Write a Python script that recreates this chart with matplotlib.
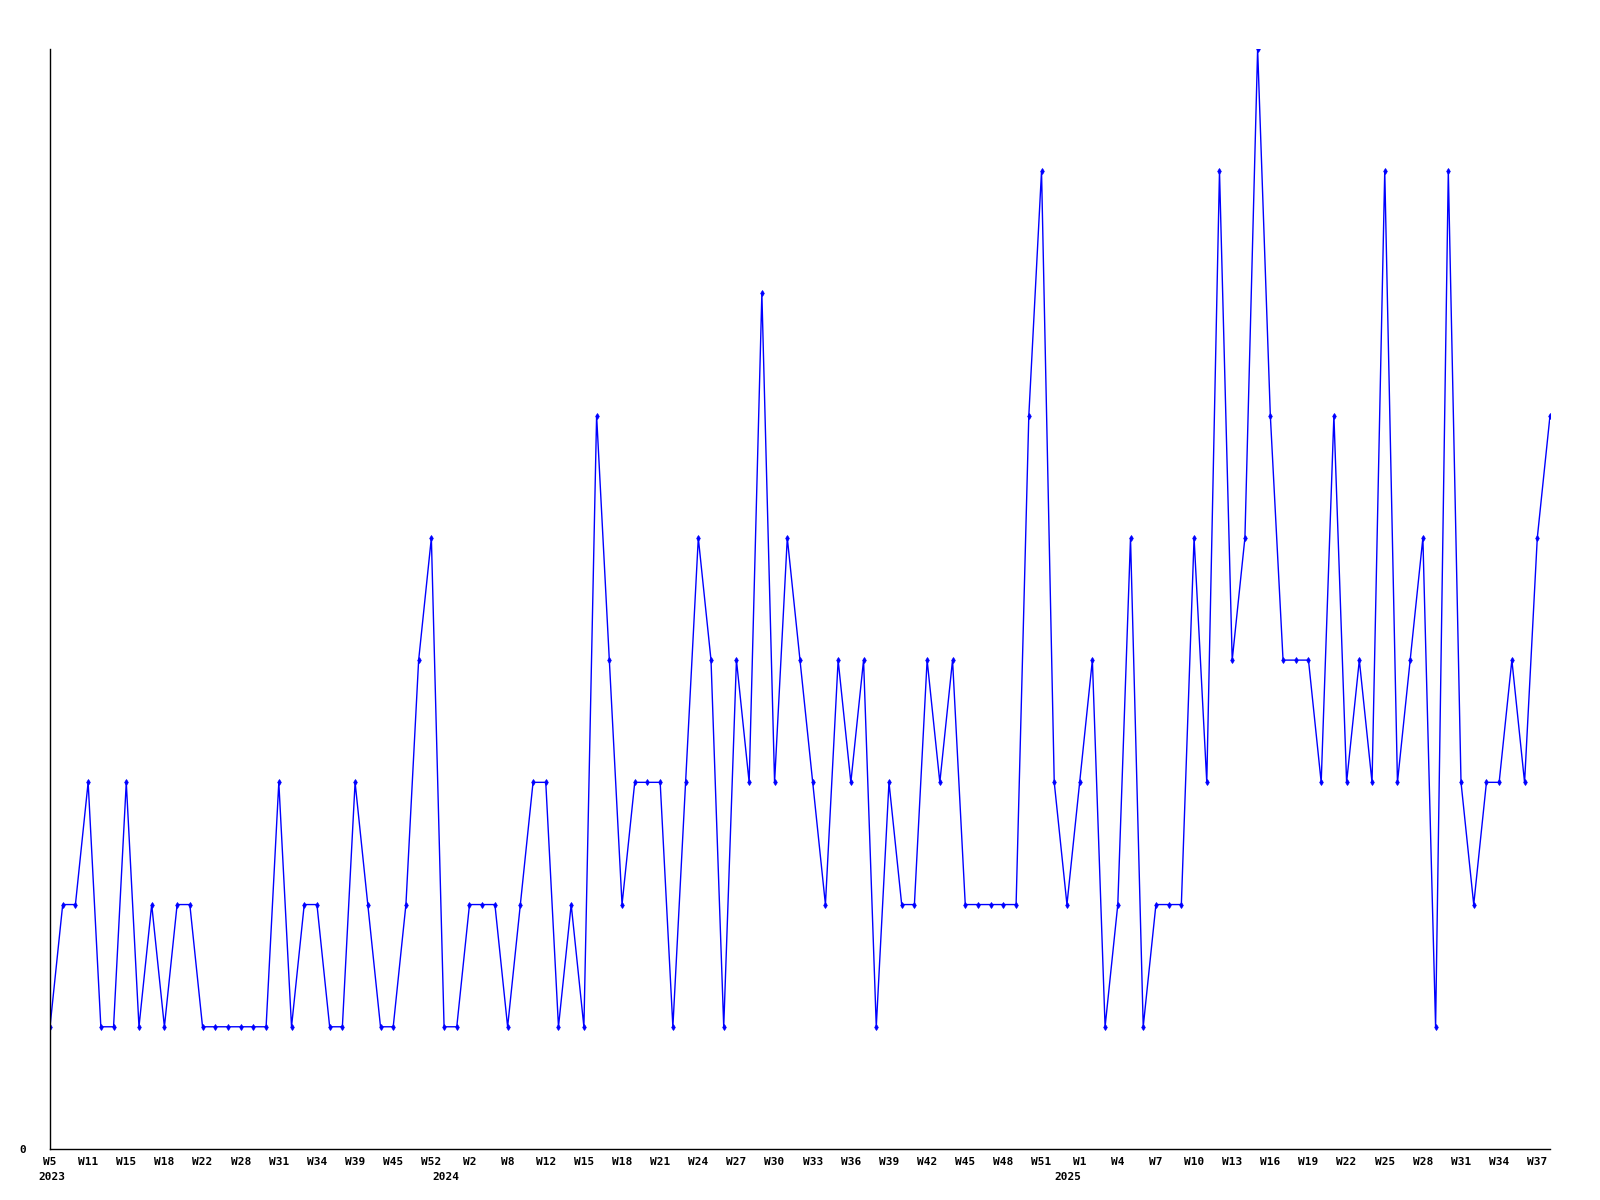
"""
Weekly counts line chart (2023 W5 - 2025 W38)
"""

import matplotlib
matplotlib.use("Agg")
import matplotlib.pyplot as plt

# =========================================================
# Data
# =========================================================
# one value per plotted week (category axis, 119 points)
counts = [
    # 2023
    1, 2, 2, 3, 1, 1, 3, 1, 2, 1,
    2, 2, 1, 1, 1, 1, 1, 1, 3, 1,
    2, 2, 1, 1, 3, 2, 1, 1, 2, 4,
    5,
    # 2024
    1, 1, 2, 2, 2, 1, 2, 3, 3,
    1, 2, 1, 6, 4, 2, 3, 3, 3, 1,
    3, 5, 4, 1, 4, 3, 7, 3, 5, 4,
    3, 2, 4, 3, 4, 1, 3, 2, 2, 4,
    3, 4, 2, 2, 2, 2, 2, 6, 8, 3,
    # 2025
    2, 3, 4, 1, 2, 5, 1, 2, 2, 2,
    5, 3, 8, 4, 5, 9, 6, 4, 4, 4,
    3, 6, 3, 4, 3, 8, 3, 4, 5, 1,
    8, 3, 2, 3, 3, 4, 3, 5, 6,
]

# a label on every third week
tick_labels = [
    "W5", "W11", "W15", "W18", "W22", "W28", "W31", "W34", "W39", "W45", "W52",
    "W2", "W8", "W12", "W15", "W18", "W21", "W24", "W27", "W30", "W33", "W36",
    "W39", "W42", "W45", "W48", "W51",
    "W1", "W4", "W7", "W10", "W13", "W16", "W19", "W22", "W25", "W28", "W31",
    "W34", "W37",
]
TICK_STEP = 3

years = ["2023", "2024", "2025"]
year_start = [0, 31, 80]       # index of first point of each year

LINE_COLOR = "#0000ff"
FONT = dict(family="DejaVu Sans Mono", fontsize=8, fontweight="bold")

# =========================================================
# Plot
# =========================================================
fig = plt.figure(figsize=(16, 12), dpi=100)
ax = fig.add_axes([50 / 1600, 1 - 1149 / 1200, 1500 / 1600, 1100 / 1200])

x = list(range(len(counts)))
ax.plot(x, counts, color=LINE_COLOR, linewidth=1.0,
        marker="d", markersize=3, markerfacecolor=LINE_COLOR,
        markeredgecolor=LINE_COLOR, markeredgewidth=0.6)

ax.set_xlim(0, len(counts) - 1)
ax.set_ylim(0, 9)

for side in ("top", "right"):
    ax.spines[side].set_visible(False)
for side in ("left", "bottom"):
    ax.spines[side].set_color("black")
    ax.spines[side].set_linewidth(1.0)

ax.set_xticks(range(0, len(counts), TICK_STEP)[:len(tick_labels)])
ax.set_xticklabels(tick_labels, **FONT)
ax.set_yticks([0])
ax.set_yticklabels(["0"], **FONT)
ax.tick_params(axis="both", length=0)
ax.tick_params(axis="x", pad=6)
ax.tick_params(axis="y", pad=17)

# year labels under the week labels
for yr, idx in zip(years, year_start):
    ax.annotate(yr, xy=(idx, 0), xycoords=("data", "axes fraction"),
                xytext=(1, -16.5), textcoords="offset points",
                ha="center", va="top", **FONT)

fig.savefig("out.png", dpi=100)
plt.close(fig)
